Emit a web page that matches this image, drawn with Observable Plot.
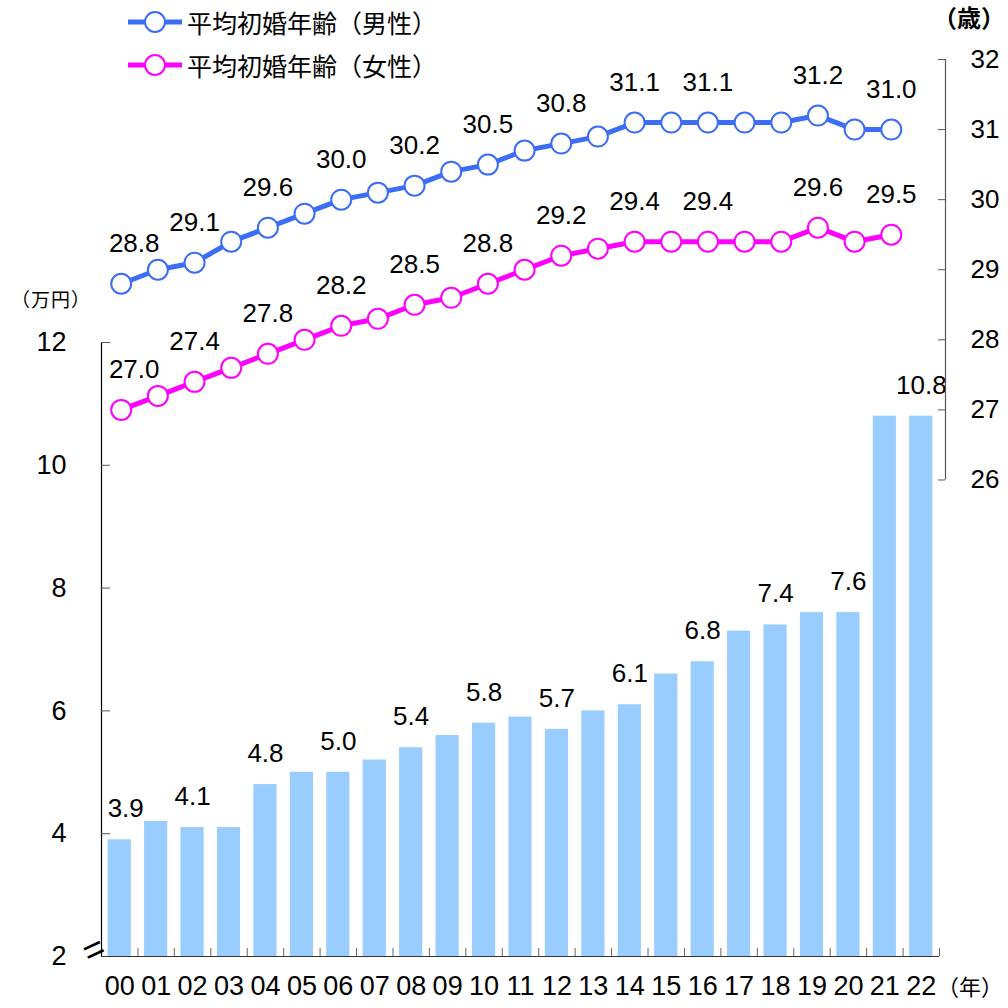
<!DOCTYPE html>
<html><head><meta charset="utf-8">
<script src="https://cdn.jsdelivr.net/npm/d3@7"></script>
<script src="https://cdn.jsdelivr.net/npm/@observablehq/plot@0.6"></script>
<style>
body{margin:0;background:#fff;}
#wrap{position:relative;width:1008px;height:1008px;overflow:hidden;}
.ov{position:absolute;font-family:"Noto Sans CJK JP",sans-serif;color:#000;white-space:nowrap;line-height:1;}
.leg{position:absolute;display:flex;align-items:center;}
</style></head><body>
<div id="wrap"></div>
<script>
// ---- data ----
const years = ["00","01","02","03","04","05","06","07","08","09","10","11","12","13","14","15","16","17","18","19","20","21","22"];
const allowance = [3.9,4.2,4.1,4.1,4.8,5.0,5.0,5.2,5.4,5.6,5.8,5.9,5.7,6.0,6.1,6.6,6.8,7.3,7.4,7.6,7.6,10.8,10.8];
const ageMale   = [28.8,29.0,29.1,29.4,29.6,29.8,30.0,30.1,30.2,30.4,30.5,30.7,30.8,30.9,31.1,31.1,31.1,31.1,31.1,31.2,31.0,31.0];
const ageFemale = [27.0,27.2,27.4,27.6,27.8,28.0,28.2,28.3,28.5,28.6,28.8,29.0,29.2,29.3,29.4,29.4,29.4,29.4,29.4,29.6,29.4,29.5];
const leftTicks = [2,4,6,8,10,12];
const rightTicks = [26,27,28,29,30,31,32];
const barLabelIdx = [0,2,4,6,8,10,12,14,16,18,20,22];
const lineLabelIdx = [0,2,4,6,8,10,12,14,16,19,21];
const legendItems = ["平均初婚年齢（男性）","平均初婚年齢（女性）"];
const colors = {male:"#3c6ef5", female:"#ff00ff", bar:"#99ccff"};

// ---- geometry helpers (secondary axis mapping) ----
const xL = 101, xR = 939;
const y0px = 956, y12px = 342;
const pxPerUnit = (y0px - y12px) / 10;
const valAtPx = px => 2 + (y0px - px) / pxPerUnit;
const agePxTop = 59, agePxPerYear = 70.08;
const agePx = a => agePxTop + (32 - a) * agePxPerYear;
const ageToY = a => valAtPx(agePx(a));
const yToAge = v => 32 - ((y0px - (v - 2) * pxPerUnit) - agePxTop) / agePxPerYear;
const bandPx = (xR - xL) / years.length;
const pxToX = px => -0.5 + (px - xL) / bandPx;
const lineX = i => pxToX(120.7 + i * 36.67);
// first labels are nudged right (away from the axis line)
const nudge = (i, px) => (i === 0 ? px / bandPx : 0);

const bars = years.map((yr, i) => ({i, yr, v: allowance[i]}));
const male = ageMale.map((a, i) => ({i, a}));
const female = ageFemale.map((a, i) => ({i, a}));

const numFont = "'Liberation Sans', Arial, sans-serif";

const chart = Plot.plot({
  width: 1008, height: 1008,
  marginLeft: xL, marginRight: 1008 - xR, marginTop: y12px, marginBottom: 1008 - y0px,
  x: {type: "linear", domain: [-0.5, 22.5], axis: null},
  y: {domain: [2, 12], axis: null},
  style: {fontFamily: numFont, fontSize: "26px", color: "#000", background: "transparent", overflow: "visible"},
  marks: [
    Plot.rect(bars, {x1: d => d.i - 0.318, x2: d => d.i + 0.318, y1: () => 2, y2: "v", fill: colors.bar}),
    Plot.text(bars.filter(d => barLabelIdx.includes(d.i)), {x: d => d.i + nudge(d.i, 6), y: "v", text: d => d.v.toFixed(1), dy: -31, fontSize: 26, fill: "#000"}),
    // left axis
    Plot.ruleX([-0.5], {x: d => d, y1: () => 2, y2: () => 12, stroke: "#000", strokeWidth: 1.2}),
    Plot.ruleY(leftTicks, {y: d => d, x1: () => -0.5, x2: () => pxToX(110), stroke: "#555"}),
    Plot.axisY(leftTicks, {anchor: "left", tickSize: 0, tickPadding: 35, fontSize: 27, label: null, tickFormat: d => String(d)}),
    Plot.text([2], {y: d => d, frameAnchor: "left", dx: -17, dy: -2, text: () => "=", rotate: -25, fontSize: 36, fill: "#000"}),
    // bottom axis
    Plot.ruleY([2], {y: d => d, x1: () => -0.5, x2: () => 22.5, stroke: "#333", strokeWidth: 1.2}),
    Plot.ruleX(d3.range(23).map(i => i + 0.5), {x: d => d, y1: () => 2, y2: () => valAtPx(948), stroke: "#666"}),
    Plot.axisX(d3.range(23), {anchor: "bottom", tickSize: 0, tickPadding: 19, tickFormat: i => years[i], fontSize: 27, label: null}),
    // right axis (age)
    Plot.ruleX([pxToX(945)], {x: d => d, y1: () => ageToY(26), y2: () => ageToY(32), stroke: "#555", strokeWidth: 1.2}),
    Plot.ruleY(rightTicks, {y: d => ageToY(d), x1: () => pxToX(938), x2: () => pxToX(945), stroke: "#555"}),
    Plot.axisY(rightTicks.map(ageToY), {anchor: "right", tickSize: 0, tickPadding: 31, tickFormat: v => String(Math.round(yToAge(v))), fontSize: 26, label: null}),
    // lines
    Plot.line(male, {x: d => lineX(d.i), y: d => ageToY(d.a), stroke: colors.male, strokeWidth: 5}),
    Plot.dot(male, {x: d => lineX(d.i), y: d => ageToY(d.a), r: 10, fill: "#fff", stroke: colors.male, strokeWidth: 2}),
    Plot.text(male.filter(d => lineLabelIdx.includes(d.i)), {x: d => lineX(d.i) + nudge(d.i, 13), y: d => ageToY(d.a), text: d => d.a.toFixed(1), dy: -40, fontSize: 26, fill: "#000"}),
    Plot.line(female, {x: d => lineX(d.i), y: d => ageToY(d.a), stroke: colors.female, strokeWidth: 5}),
    Plot.dot(female, {x: d => lineX(d.i), y: d => ageToY(d.a), r: 10, fill: "#fff", stroke: colors.female, strokeWidth: 2}),
    Plot.text(female.filter(d => lineLabelIdx.includes(d.i)), {x: d => lineX(d.i) + nudge(d.i, 13), y: d => ageToY(d.a), text: d => d.a.toFixed(1), dy: -40, fontSize: 26, fill: "#000"})
  ]
});

const wrap = document.getElementById("wrap");
wrap.appendChild(chart);

// legend
const legColors = [colors.male, colors.female];
const legTops = [22, 65];
legendItems.forEach((t, k) => {
  const d = document.createElement("div");
  d.className = "leg";
  d.style.left = "128px";
  d.style.top = (legTops[k] - 14) + "px";
  d.style.height = "28px";
  d.innerHTML = `<svg width="56" height="28" style="overflow:visible"><line x1="0" x2="54" y1="14" y2="14" stroke="${legColors[k]}" stroke-width="5"/><circle cx="27" cy="14" r="10" fill="#fff" stroke="${legColors[k]}" stroke-width="2"/></svg><span style="font-family:'Noto Sans CJK JP',sans-serif;font-size:25px;margin-left:3px;line-height:28px;">${t}</span>`;
  wrap.appendChild(d);
});

function addText(txt, left, top, size, extra) {
  const d = document.createElement("div");
  d.className = "ov";
  d.style.left = left + "px"; d.style.top = top + "px"; d.style.fontSize = size + "px";
  if (extra) d.style.cssText += extra;
  d.textContent = txt;
  wrap.appendChild(d);
}
addText("（万円）", 11, 289, 19, "letter-spacing:1px;");
addText("（歳）", 933, 5, 24, "font-weight:bold;");
addText("（年）", 937, 974, 22);
</script>
</body></html>
